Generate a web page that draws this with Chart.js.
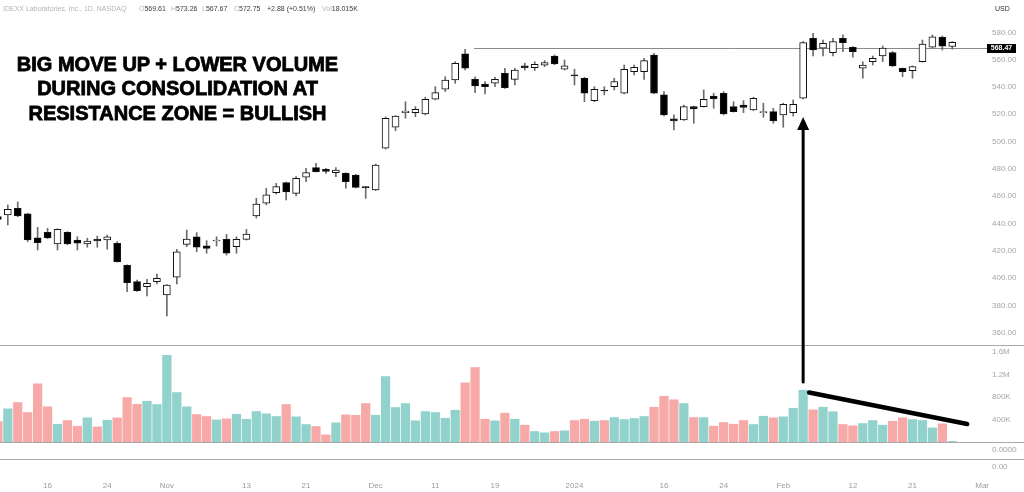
<!DOCTYPE html>
<html>
<head>
<meta charset="utf-8">
<script src="https://cdn.jsdelivr.net/npm/chart.js"></script>
<style>
  html, body { margin:0; padding:0; background:#fff; overflow:hidden; }
  #wrap { position:relative; width:1024px; height:492px; font-family:'Liberation Sans', Arial, sans-serif; }
  #wrap canvas { position:absolute; left:0; }
  .sep { position:absolute; left:0; width:1024px; height:1px; background:#a9a9a9; }
  .t { position:absolute; white-space:nowrap; }
  .hdr { position:absolute; top:5px; font-size:7px; line-height:8px; color:#b4b4b4; white-space:nowrap; }
  .hdr b { font-weight:normal; color:#3a3a3a; }
  .ax { font-size:8px; line-height:10px; color:#a3a3a3; }
  #note { position:absolute; left:0; top:52px; width:355px; text-align:center; font-weight:bold; font-size:20px; line-height:24.3px; color:#000; -webkit-text-stroke:0.8px #000; }
</style>
</head>
<body>
<div id="wrap">
  <canvas id="priceCanvas" width="1024" height="345" style="top:0"></canvas>
  <canvas id="volCanvas" width="1024" height="97" style="top:345px"></canvas>
  <canvas id="axisCanvas" width="1024" height="33" style="top:459px"></canvas>
  <div class="sep" style="top:345px"></div>
  <div class="sep" style="top:442px"></div>
  <div class="sep" style="top:459px"></div>
  <div id="hdr"></div>
  <div class="t" style="left:995px;top:5px;font-size:7px;line-height:8px;color:#333">USD</div>
  <div class="t ax" style="left:992px;top:445px">0.0000</div>
  <div class="t ax" style="left:992px;top:462px">0.00</div>
  <div id="note">BIG MOVE UP + LOWER VOLUME<br>DURING CONSOLIDATION AT<br>RESISTANCE ZONE = BULLISH</div>
  <canvas id="overlay" width="1024" height="492" style="top:0;pointer-events:none"></canvas>
</div>
<script>
// ---------------- DATA ----------------
const dates = [
  '2023-10-09','2023-10-10','2023-10-11','2023-10-12','2023-10-13','2023-10-16','2023-10-17','2023-10-18','2023-10-19','2023-10-20',
  '2023-10-23','2023-10-24','2023-10-25','2023-10-26','2023-10-27','2023-10-30','2023-10-31',
  '2023-11-01','2023-11-02','2023-11-03','2023-11-06','2023-11-07','2023-11-08','2023-11-09','2023-11-10','2023-11-13','2023-11-14',
  '2023-11-15','2023-11-16','2023-11-17','2023-11-20','2023-11-21','2023-11-22','2023-11-24','2023-11-27','2023-11-28','2023-11-29','2023-11-30',
  '2023-12-01','2023-12-04','2023-12-05','2023-12-06','2023-12-07','2023-12-08','2023-12-11','2023-12-12','2023-12-13','2023-12-14',
  '2023-12-15','2023-12-18','2023-12-19','2023-12-20','2023-12-21','2023-12-22','2023-12-26','2023-12-27','2023-12-28','2023-12-29',
  '2024-01-02','2024-01-03','2024-01-04','2024-01-05','2024-01-08','2024-01-09','2024-01-10','2024-01-11','2024-01-12','2024-01-16',
  '2024-01-17','2024-01-18','2024-01-19','2024-01-22','2024-01-23','2024-01-24','2024-01-25','2024-01-26','2024-01-29','2024-01-30','2024-01-31',
  '2024-02-01','2024-02-02','2024-02-05','2024-02-06','2024-02-07','2024-02-08','2024-02-09','2024-02-12','2024-02-13','2024-02-14',
  '2024-02-15','2024-02-16','2024-02-20','2024-02-21','2024-02-22','2024-02-23','2024-02-26','2024-02-27'
];
const opens = [
  445.0,446.2,451.1,447.0,429.4, 433.5,425.0,433.5,427.9,425.0,
  428.4,427.9,425.5,409.4,397.4, 393.7,397.4,387.6,400.6,424.7,
  430.3,423.7,427.2,428.4,423.0, 428.4,445.5,454.8,462.6,469.9,
  462.1,473.9,480.9,479.7,477.2, 476.8,475.5,467.0,464.5,495.1,
  510.5,521.2,521.2,520.2,531.0, 538.3,545.1,564.2,545.6,542.2,
  542.7,550.0,545.6,555.4,554.1, 555.9,562.7,553.0,548.8,546.4,
  530.0,537.8,540.2,535.4,551.2, 551.2,563.4,534.2,516.6,515.8,
  525.6,525.6,533.4,535.4,525.6, 526.8,523.2,521.2,521.9,519.5,
  521.2,531.7,575.7,568.4,565.1, 575.7,569.1,553.7,558.5,562.7,
  565.1,553.7,552.0,558.5,569.1, 576.4,569.61
];
const highs = [
  446.5,453.6,455.8,447.5,437.2, 436.5,436.0,434.0,430.3,429.2,
  430.8,431.5,426.7,409.7,398.6, 399.1,403.0,395.2,421.1,435.2,
  433.3,427.4,430.3,432.1,430.3, 435.7,458.5,465.8,469.4,470.3,
  474.3,480.4,484.1,480.4,480.9, 477.2,476.0,467.2,483.6,518.0,
  519.0,529.2,525.6,532.5,540.2, 547.5,558.5,567.6,547.5,543.9,
  547.1,553.7,553.7,557.4,558.5, 559.3,563.4,559.8,553.0,547.1,
  540.2,540.2,546.4,556.1,556.1, 561.0,564.7,536.6,519.5,526.8,
  525.9,537.8,535.4,536.6,529.2, 530.0,532.5,528.1,524.4,528.1,
  530.5,573.2,579.3,574.4,575.7, 578.1,569.5,558.5,562.7,570.0,
  565.9,553.9,555.4,574.4,578.1, 577.4,573.26
];
const lows = [
  441.0,438.9,445.0,426.7,420.6, 428.9,420.6,424.5,420.6,422.6,
  422.6,421.1,411.6,390.0,390.3, 386.9,395.7,372.2,395.7,423.0,
  419.3,418.2,423.5,416.9,418.2, 427.9,444.0,453.6,461.6,457.2,
  460.2,470.6,477.8,476.7,474.3, 465.8,466.0,458.4,464.0,494.5,
  508.0,517.1,518.2,519.5,530.5, 536.6,542.7,552.5,535.8,534.9,
  540.2,539.0,541.5,552.4,552.0, 554.9,556.3,552.4,541.5,529.2,
  529.2,534.2,537.8,535.0,548.8, 545.6,535.0,518.7,508.5,515.5,
  513.4,525.3,524.4,519.5,521.6, 521.2,522.6,517.8,513.4,510.5,
  518.7,531.2,562.7,562.7,562.7, 565.9,561.8,546.4,556.1,558.5,
  554.9,547.5,546.4,558.2,568.4, 567.1,567.67
];
const closes = [
  443.0,450.4,445.5,427.9,425.9, 429.4,435.7,425.0,425.5,427.2,
  427.2,430.3,412.0,396.6,390.8, 396.2,399.9,394.9,419.3,428.6,
  422.6,421.8,427.9,418.2,428.4, 432.3,454.3,460.9,467.0,463.1,
  473.1,477.2,478.0,478.2,479.2, 470.6,466.5,466.2,482.8,517.1,
  518.7,522.4,523.7,531.0,535.8, 545.1,557.4,553.7,540.7,540.2,
  545.6,539.5,552.4,554.1,556.6, 557.8,556.9,555.4,548.0,535.4,
  538.3,537.1,543.9,553.0,554.4, 559.3,535.4,519.5,515.1,525.6,
  523.9,531.0,531.4,520.2,521.9, 525.1,531.7,521.9,515.1,527.3,
  527.3,572.5,567.1,572.0,573.2, 572.5,565.9,556.1,561.0,568.4,
  555.4,551.2,554.9,571.5,576.8, 569.87,572.75
];
const volumes = [
  369000,595000,707000,529000,1039000, 630000,321000,387000,286000,435000,
  275000,392000,435000,795000,676000, 730000,671000,1546000,884000,630000,
  494000,458000,399000,417000,499000, 410000,547000,506000,458000,671000,
  453000,316000,281000,133000,346000, 488000,481000,689000,481000,1168000,
  618000,689000,382000,547000,529000, 428000,570000,1056000,1328000,410000,
  382000,517000,410000,304000,192000, 169000,192000,204000,387000,410000,
  375000,387000,440000,405000,423000, 458000,623000,818000,755000,689000,
  440000,440000,286000,352000,321000, 387000,316000,463000,435000,453000,
  605000,925000,577000,623000,542000, 316000,293000,334000,387000,304000,
  375000,435000,405000,387000,257000, 328000,18015
];
const priceTicks = [360,380,400,420,440,460,480,500,520,540,560,580];
const volumeTicks = [400000,800000,1200000,1600000];
const axisTickDates = ['2023-10-16','2023-10-24','2023-11-01','2023-11-13','2023-11-21','2023-12-01','2023-12-11','2023-12-19',
                       '2024-01-02','2024-01-16','2024-01-24','2024-02-01','2024-02-12','2024-02-21','2024-03-01'];
const axisTickLabels = ['16','24','Nov','13','21','Dec','11','19','2024','16','24','Feb','12','21','Mar'];
const futureDates = ['2024-02-28','2024-02-29','2024-03-01'];
const resistancePrice = 568.47;
const resistanceFrom = 47.9;
const arrowDate = '2024-02-05';
const arrowTipPrice = 518;
const arrowEndVolume = 1065000;
const trendStart = [81.6, 879000];
const trendEnd = [97.5, 320000];

// ---------------- LAYOUT ----------------
const X_MIN = 0.2155, X_MAX_PLOT = 97.28, X_MAX_AXIS = 103.21;
const P_MIN = 350.99, P_MAX = 603.70, V_MAX = 1722000;
const AXIS_W = 59;
const TICK_COLOR = '#a5a5a5';
Chart.defaults.font.family = "'Liberation Sans', Arial, sans-serif";

const idx = dates.map((d, i) => i);
const isUp = idx.map(i => closes[i] >= opens[i]);
const bodyData = idx.map(i => ({x: i, y: [Math.min(opens[i], closes[i]), Math.max(opens[i], closes[i])]}));
const wickData = idx.map(i => ({x: i, y: [lows[i], highs[i]]}));
const volData = idx.map(i => ({x: i, y: volumes[i]}));

const baseOpts = {
  responsive: false, animation: false, events: [],
  layout: {padding: 0, autoPadding: false},
  plugins: {legend: {display: false}, tooltip: {enabled: false}}
};
const rightAxisGrid = {display: true, drawOnChartArea: false, drawTicks: true, tickLength: 27, color: 'rgba(0,0,0,0)'};
function fitRight(s) { s.width = AXIS_W; s.paddingTop = 0; s.paddingBottom = 0; s.paddingLeft = 0; s.paddingRight = 0; }

const resistancePlugin = {
  id: 'resistance',
  beforeDatasetsDraw(chart) {
    const {ctx, scales: {x, y}} = chart;
    const py = Math.round(y.getPixelForValue(resistancePrice)) + 0.5;
    ctx.save();
    ctx.strokeStyle = '#8a8a8a'; ctx.lineWidth = 1;
    ctx.beginPath(); ctx.moveTo(x.getPixelForValue(resistanceFrom), py); ctx.lineTo(chart.width - 37, py); ctx.stroke();
    ctx.restore();
  },
  afterDraw(chart) {
    const {ctx, scales: {y}} = chart;
    const py = y.getPixelForValue(resistancePrice);
    ctx.save();
    ctx.fillStyle = '#000'; ctx.fillRect(chart.width - 37, Math.round(py) - 4, 29, 9);
    ctx.fillStyle = '#fff'; ctx.font = "bold 7px 'Liberation Sans', Arial, sans-serif";
    ctx.textAlign = 'center'; ctx.textBaseline = 'middle';
    ctx.fillText(resistancePrice.toFixed(2), chart.width - 22.5, Math.round(py) + 0.5);
    ctx.restore();
  }
};

const priceChart = new Chart(document.getElementById('priceCanvas'), {
  type: 'bar',
  data: {datasets: [
    {data: bodyData, backgroundColor: isUp.map(u => u ? '#ffffff' : '#000000'), borderColor: '#111',
     borderWidth: 1, borderSkipped: false, barThickness: 7, grouped: false, order: 0},
    {data: wickData, backgroundColor: '#6b6b6b', borderWidth: 0, barThickness: 1, grouped: false, order: 1}
  ]},
  options: Object.assign({}, baseOpts, {
    scales: {
      x: {type: 'linear', min: X_MIN, max: X_MAX_PLOT, display: false, offset: false},
      y: {position: 'right', min: P_MIN, max: P_MAX,
          grid: rightAxisGrid, border: {display: false},
          afterFit: fitRight,
          afterBuildTicks(s) { s.ticks = priceTicks.map(v => ({value: v})); },
          ticks: {padding: 0, color: TICK_COLOR, font: {size: 8}, callback: v => Number(v).toFixed(2)}}
    }
  }),
  plugins: [resistancePlugin]
});

const volChart = new Chart(document.getElementById('volCanvas'), {
  type: 'bar',
  data: {datasets: [
    {data: volData, backgroundColor: isUp.map(u => u ? 'rgba(38,166,154,0.5)' : 'rgba(239,83,80,0.5)'),
     borderWidth: 0, barPercentage: 0.93, categoryPercentage: 1, grouped: false}
  ]},
  options: Object.assign({}, baseOpts, {
    scales: {
      x: {type: 'linear', min: X_MIN, max: X_MAX_PLOT, display: false, offset: false},
      y: {position: 'right', min: 0, max: V_MAX,
          grid: rightAxisGrid, border: {display: false},
          afterFit: fitRight,
          afterBuildTicks(s) { s.ticks = volumeTicks.map(v => ({value: v})); },
          ticks: {padding: 0, color: TICK_COLOR, font: {size: 8},
                  callback: v => v >= 1e6 ? (v / 1e6).toFixed(1) + 'M' : Math.round(v / 1e3) + 'K'}}
    }
  })
});

const allDates = dates.concat(futureDates);
const axisTickIdx = axisTickDates.map(d => allDates.indexOf(d));
new Chart(document.getElementById('axisCanvas'), {
  type: 'line',
  data: {datasets: []},
  options: Object.assign({}, baseOpts, {
    scales: {
      x: {type: 'linear', position: 'bottom', min: X_MIN, max: X_MAX_AXIS, offset: false,
          grid: {display: false, drawTicks: false}, border: {display: false},
          afterFit(s) { s.height = 17; s.paddingLeft = 0; s.paddingRight = 0; },
          afterBuildTicks(s) { s.ticks = axisTickIdx.map(v => ({value: v})); },
          ticks: {autoSkip: false, maxRotation: 0, padding: 6, color: '#9c9c9c', font: {size: 8},
                  callback: (v, i) => axisTickLabels[i]}},
      y: {display: false}
    }
  })
});

// header line built from the last bar
(function () {
  const L = closes.length - 1;
  const chg = closes[L] - closes[L - 1];
  const pct = chg / closes[L - 1] * 100;
  const sgn = chg >= 0 ? '+' : '';
  const segs = [
    [3, 'IDEXX Laboratories, Inc., 1D, NASDAQ'],
    [139, 'O<b>' + opens[L].toFixed(2) + '</b>'],
    [171, 'H<b>' + highs[L].toFixed(2) + '</b>'],
    [202, 'L<b>' + lows[L].toFixed(2) + '</b>'],
    [234, 'C<b>' + closes[L].toFixed(2) + '</b>'],
    [267, '<b>' + sgn + chg.toFixed(2) + ' (' + sgn + pct.toFixed(2) + '%)</b>'],
    [322, 'Vol<b>' + (volumes[L] / 1000).toFixed(3) + 'K</b>']
  ];
  document.getElementById('hdr').innerHTML = segs.map(s => '<div class="hdr" style="left:' + s[0] + 'px">' + s[1] + '</div>').join('');
})();

// annotations: arrow and falling-volume line
(function () {
  const ov = document.getElementById('overlay').getContext('2d');
  const ps = priceChart.scales, vs = volChart.scales;
  const volTop = 345;
  const ax = ps.x.getPixelForValue(dates.indexOf(arrowDate));
  const tipY = ps.y.getPixelForValue(arrowTipPrice);
  const endY = volTop + vs.y.getPixelForValue(arrowEndVolume);
  ov.strokeStyle = '#000'; ov.fillStyle = '#000'; ov.lineCap = 'round';
  ov.lineWidth = 3;
  ov.beginPath(); ov.moveTo(ax, tipY + 10); ov.lineTo(ax, endY); ov.stroke();
  ov.beginPath(); ov.moveTo(ax, tipY); ov.lineTo(ax - 6, tipY + 13); ov.lineTo(ax + 6, tipY + 13); ov.closePath(); ov.fill();
  ov.lineWidth = 4.5;
  ov.beginPath();
  ov.moveTo(vs.x.getPixelForValue(trendStart[0]), volTop + vs.y.getPixelForValue(trendStart[1]));
  ov.lineTo(vs.x.getPixelForValue(trendEnd[0]), volTop + vs.y.getPixelForValue(trendEnd[1]));
  ov.stroke();
})();
</script>
</body>
</html>
